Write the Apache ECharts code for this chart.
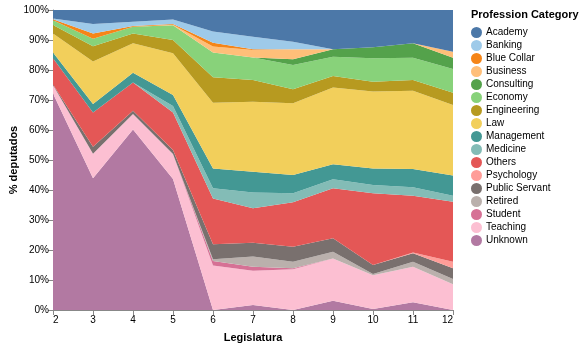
<!DOCTYPE html>
<html>
<head>
<meta charset="utf-8">
<script src="https://cdn.jsdelivr.net/npm/echarts@6/dist/echarts.min.js"></script>
<style>html,body{margin:0;padding:0;background:#fff}#c{width:584px;height:347px}</style>
</head>
<body>
<div id="c"></div>
<script>
const legislaturas = ['2','3','4','5','6','7','8','9','10','11','12'];
const yTicks = [0,10,20,30,40,50,60,70,80,90,100];
// percentage share per legislatura (2..12)
const Academy       = [2.8, 4.7, 3.9, 3.2, 7.2, 8.9, 10.6, 13.1, 12.4, 11.1, 13.9];
const Banking       = [0.3, 3.1, 1.4, 1.5, 3.7, 4.2, 2.5, 0, 0, 0, 0];
const BlueCollar    = [0.3, 1.8, 0.3, 0.2, 1.3, 0.2, 0, 0, 0, 0, 0];
const Business      = [0, 0, 0, 0.2, 2.0, 2.5, 3.3, 0, 0, 0, 2.0];
const Consulting    = [0, 0, 0, 0, 0, 0, 1.9, 2.5, 3.7, 4.8, 3.8];
const Economy       = [1.6, 2.5, 2.2, 4.9, 8.2, 7.5, 8.1, 6.4, 7.8, 7.4, 7.9];
const Engineering   = [2.8, 5.1, 3.3, 4.4, 8.5, 7.3, 4.7, 3.8, 3.3, 3.6, 4.1];
const Law           = [6.4, 14.1, 9.8, 13.9, 21.9, 23.3, 23.9, 25.6, 25.6, 26.1, 23.5];
const Management    = [1.9, 2.9, 3.3, 3.7, 6.6, 6.9, 6.1, 5.0, 5.5, 6.1, 6.7];
const Medicine      = [0, 0, 0, 2.2, 3.4, 5.3, 3.0, 3.0, 2.8, 2.8, 2.0];
const Others        = [8.7, 11.4, 9.4, 12.5, 15.3, 11.5, 14.8, 16.7, 23.9, 18.9, 20.0];
const Psychology    = [0, 0, 0, 0, 0, 0, 0, 0, 0, 0.3, 2.2];
const PublicServant = [0.2, 2.3, 1.1, 1.3, 5.0, 4.6, 5.0, 4.5, 3.0, 2.8, 3.6];
const Retired       = [0, 0, 0, 0, 0.6, 3.4, 2.2, 2.2, 0.4, 1.7, 1.7];
const Student       = [0, 0, 0, 0, 1.5, 1.3, 0.3, 0, 0, 0, 0];
const Teaching      = [2.8, 8.2, 5.1, 8.3, 14.8, 11.4, 13.6, 14.1, 11.3, 11.8, 8.6];
const Unknown       = [72.2, 43.9, 60.2, 43.7, 0, 1.7, 0, 3.1, 0.3, 2.6, 0];

const legendOrder = ['Academy','Banking','Blue Collar','Business','Consulting','Economy','Engineering','Law','Management','Medicine','Others','Psychology','Public Servant','Retired','Student','Teaching','Unknown'];
const colors = {
  'Academy':'#4c78a8','Banking':'#9ecae9','Blue Collar':'#f58518','Business':'#ffbf79',
  'Consulting':'#54a24b','Economy':'#88d27a','Engineering':'#b79a20','Law':'#f2cf5b',
  'Management':'#439894','Medicine':'#83bcb6','Others':'#e45756','Psychology':'#ff9d98',
  'Public Servant':'#79706e','Retired':'#bab0ac','Student':'#d67195','Teaching':'#fcbfd2','Unknown':'#b279a2'
};
const dataMap = {
  'Academy':Academy,'Banking':Banking,'Blue Collar':BlueCollar,'Business':Business,
  'Consulting':Consulting,'Economy':Economy,'Engineering':Engineering,'Law':Law,
  'Management':Management,'Medicine':Medicine,'Others':Others,'Psychology':Psychology,
  'Public Servant':PublicServant,'Retired':Retired,'Student':Student,'Teaching':Teaching,'Unknown':Unknown
};
const stackOrder = legendOrder.slice().reverse();

const series = stackOrder.map(name => ({
  name: name, type: 'line', stack: 'total', data: dataMap[name],
  showSymbol: false, symbol: 'none', smooth: false,
  lineStyle: {width: 0}, areaStyle: {color: colors[name], opacity: 1},
  itemStyle: {color: colors[name]}, emphasis: {disabled: true}
}));

const chart = echarts.init(document.getElementById('c'), null, {renderer: 'canvas'});
chart.setOption({
  animation: false,
  textStyle: {fontFamily: 'Liberation Sans, Arial, sans-serif'},
  grid: {left: 53, right: 131, top: 10, bottom: 37, containLabel: false, outerBoundsMode: 'none'},
  xAxis: {
    type: 'category', data: legislaturas, boundaryGap: false,
    name: 'Legislatura', nameLocation: 'middle', nameGap: 22, nameMoveOverlap: false,
    nameTextStyle: {fontWeight: 'bold', fontSize: 11, color: '#000'},
    axisLine: {lineStyle: {color: '#888'}},
    axisTick: {lineStyle: {color: '#888'}, length: 5},
    axisLabel: {color: '#000', fontSize: 10, margin: 5, alignMinLabel: 'left', alignMaxLabel: 'right'},
    splitLine: {show: false}
  },
  yAxis: {
    type: 'value', min: 0, max: 100, interval: 10,
    name: '% deputados', nameLocation: 'middle', nameGap: 34, nameMoveOverlap: false,
    nameTextStyle: {fontWeight: 'bold', fontSize: 11, color: '#000'},
    axisLine: {show: true, lineStyle: {color: '#888'}},
    axisTick: {show: true, lineStyle: {color: '#888'}, length: 5},
    axisLabel: {color: '#000', fontSize: 10, margin: 4, formatter: v => v + '%'},
    splitLine: {show: false}
  },
  legend: {
    orient: 'vertical', left: 471, top: 27, data: legendOrder,
    icon: 'circle', itemWidth: 11, itemHeight: 11, itemGap: 2,
    textStyle: {fontSize: 10, color: '#000', padding: [0,0,0,-1]},
    padding: 0
  },
  graphic: [{
    type: 'text', left: 471, top: 9,
    style: {text: 'Profession Category', font: 'bold 11px Liberation Sans, Arial, sans-serif', fill: '#000'}
  }],
  series: series
});
</script>
</body>
</html>
